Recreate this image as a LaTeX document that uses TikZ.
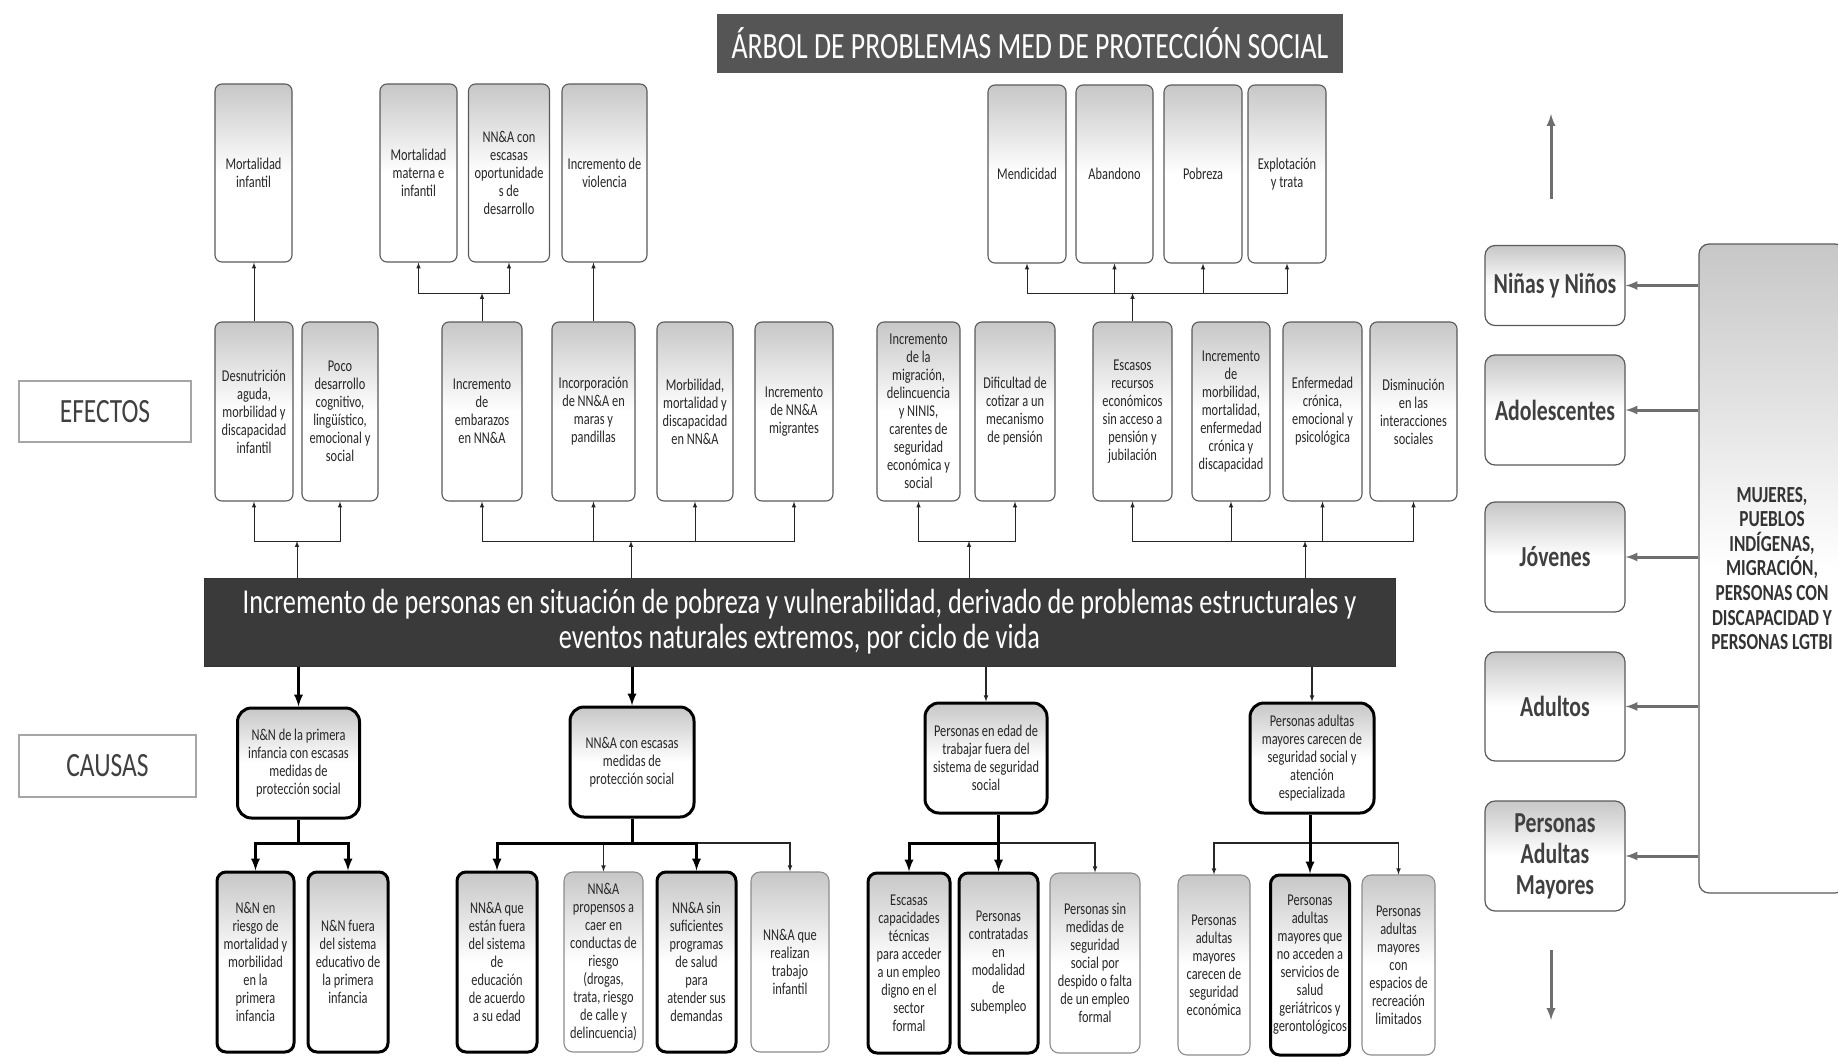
\documentclass[tikz,border=0pt]{standalone}
\usepackage{fontspec}
\setmainfont{Carlito}[FakeStretch=0.75]
\usepackage{tikz}
\usetikzlibrary{arrows}
\definecolor{boxline}{HTML}{5A5A5A}
\definecolor{inktxt}{HTML}{262626}
\definecolor{barfill}{HTML}{3A3A3A}
\definecolor{titlefill}{HTML}{555555}
\definecolor{lightline}{HTML}{8C8C8C}
\definecolor{sidegray}{HTML}{6E6E6E}
\newcommand{\boxfont}{\fontsize{16.5}{18}\selectfont}

\begin{document}
\begin{tikzpicture}[x=1pt,y=-1pt,>=latex,
  shadebox/.style={top color=black!22, bottom color=white, middle color=white},
  eff/.style={shadebox, rounded corners=7pt, draw=boxline, line width=1.1pt, align=center, inner sep=2pt, text=inktxt, font=\boxfont},
  toprow/.style={eff, minimum height=178pt},
  midrow/.style={eff, minimum height=179pt},
  kidthick/.style={eff, draw=black, line width=3pt, rounded corners=9pt, minimum height=180pt},
  kidthin/.style={eff, draw=lightline, rounded corners=9pt, minimum height=180pt},
  causebox/.style={eff, draw=black, line width=3pt, rounded corners=14pt, minimum height=110pt},
  agebox/.style={shadebox, rounded corners=10pt, draw=boxline, line width=1.2pt, align=center, text=black!75, font=\bfseries\fontsize{29}{31}\selectfont},
  labelbox/.style={draw=black!35, line width=1.2pt, fill=white, text=black!75, font=\fontsize{34}{36}\selectfont},
  efflink/.style={draw=inktxt, line width=1pt},
  thicklink/.style={draw=black, line width=3pt},
  thinlink/.style={draw=inktxt, line width=1.1pt},
  sidelink/.style={draw=sidegray, line width=3pt, ->}
]
\useasboundingbox (0,0) rectangle (1838,1057);
\clip (0,0) rectangle (1838,1057);
\fill[white] (0,0) rectangle (1838,1057);

\node[fill=titlefill, text=white, minimum width=626pt, minimum height=59pt, font=\fontsize{37}{40}\selectfont] (title) at (1030,43.5) {ÁRBOL DE PROBLEMAS MED DE PROTECCIÓN SOCIAL};

\node[labelbox, minimum width=172pt, minimum height=61pt] (efectos) at (105,411.5) {EFECTOS};
\node[labelbox, minimum width=177pt, minimum height=62pt] (causas) at (107.5,766) {CAUSAS};

% efectos
\node[toprow, minimum width=77pt] (t1) at (253.5,173) {Mortalidad\\ infantil};
\node[toprow, minimum width=77pt] (t2) at (418.5,173) {Mortalidad\\ materna e\\ infantil};
\node[toprow, minimum width=81pt] (t3) at (509,173) {NN\&A con\\ escasas\\ oportunidade\\ s de\\ desarrollo};
\node[toprow, minimum width=85pt] (t4) at (604.5,173) {Incremento de\\ violencia};
\node[toprow, minimum width=78pt] (t5) at (1027,174) {Mendicidad};
\node[toprow, minimum width=77pt] (t6) at (1114.5,174) {Abandono};
\node[toprow, minimum width=78pt] (t7) at (1203,174) {Pobreza};
\node[toprow, minimum width=78pt] (t8) at (1287,174) {Explotación\\ y trata};

\node[midrow, minimum width=78pt] (m1) at (254,411.5) {Desnutrición\\ aguda,\\ morbilidad y\\ discapacidad\\ infantil};
\node[midrow, minimum width=76pt] (m2) at (340,411.5) {Poco\\ desarrollo\\ cognitivo,\\ lingüístico,\\ emocional y\\ social};
\node[midrow, minimum width=80pt] (m3) at (482,411.5) {Incremento\\ de\\ embarazos\\ en NN\&A};
\node[midrow, minimum width=83pt] (m4) at (593.5,411.5) {Incorporación\\ de NN\&A en\\ maras y\\ pandillas};
\node[midrow, minimum width=76pt] (m5) at (695,411.5) {Morbilidad,\\ mortalidad y\\ discapacidad\\ en NN\&A};
\node[midrow, minimum width=78pt] (m6) at (794,411.5) {Incremento\\ de NN\&A\\ migrantes};
\node[midrow, minimum width=83pt] (m7) at (918.5,411.5) {Incremento\\ de la\\ migración,\\ delincuencia\\ y NINIS,\\ carentes de\\ seguridad\\ económica y\\ social};
\node[midrow, minimum width=80pt] (m8) at (1015,411.5) {Dificultad de\\ cotizar a un\\ mecanismo\\ de pensión};
\node[midrow, minimum width=79pt] (m9) at (1132.5,411.5) {Escasos\\ recursos\\ económicos\\ sin acceso a\\ pensión y\\ jubilación};
\node[midrow, minimum width=78pt] (m10) at (1231,411.5) {Incremento\\ de\\ morbilidad,\\ mortalidad,\\ enfermedad\\ crónica y\\ discapacidad};
\node[midrow, minimum width=79pt] (m11) at (1322.5,411.5) {Enfermedad\\ crónica,\\ emocional y\\ psicológica};
\node[midrow, minimum width=87pt] (m12) at (1413.5,411.5) {Disminución\\ en las\\ interacciones\\ sociales};

\node[fill=barfill, draw=black!80, line width=1pt, text=white, align=center, minimum width=1191pt, minimum height=88pt, font=\fontsize{35}{35}\selectfont] (core) at (799.5,622) {Incremento de personas en situación de pobreza y vulnerabilidad, derivado de problemas estructurales y\\ eventos naturales extremos, por ciclo de vida};

% causas
\node[causebox, minimum width=122pt] (k1) at (298.5,763) {N\&N de la primera\\ infancia con escasas\\ medidas de\\ protección social};
\node[causebox, minimum width=124pt] (k2) at (632,762) {NN\&A con escasas\\ medidas de\\ protección social};
\node[causebox, minimum width=122pt] (k3) at (986,758) {Personas en edad de\\ trabajar fuera del\\ sistema de seguridad\\ social};
\node[causebox, minimum width=124pt] (k4) at (1312,758) {Personas adultas\\ mayores carecen de\\ seguridad social y\\ atención\\ especializada};

\node[kidthick, minimum width=77pt] (c1a) at (255.5,962) {N\&N en\\ riesgo de\\ mortalidad y\\ morbilidad\\ en la\\ primera\\ infancia};
\node[kidthick, minimum width=80pt] (c1b) at (348,962) {N\&N fuera\\ del sistema\\ educativo de\\ la primera\\ infancia};
\node[kidthick, minimum width=80pt] (c2a) at (497,962) {NN\&A que\\ están fuera\\ del sistema\\ de\\ educación\\ de acuerdo\\ a su edad};
\node[kidthin, minimum width=79pt] (c2b) at (603.5,962) {NN\&A\\ propensos a\\ caer en\\ conductas de\\ riesgo\\ (drogas,\\ trata, riesgo\\ de calle y\\ delincuencia)};
\node[kidthick, minimum width=79pt] (c2c) at (696.5,962) {NN\&A sin\\ suficientes\\ programas\\ de salud\\ para\\ atender sus\\ demandas};
\node[kidthin, minimum width=78pt] (c2d) at (790,962) {NN\&A que\\ realizan\\ trabajo\\ infantil};
\node[kidthick, minimum width=82pt] (c3a) at (909,963) {Escasas\\ capacidades\\ técnicas\\ para acceder\\ a un empleo\\ digno en el\\ sector\\ formal};
\node[kidthick, minimum width=79pt] (c3b) at (998.5,963) {Personas\\ contratadas\\ en\\ modalidad\\ de\\ subempleo};
\node[kidthin, minimum width=90pt] (c3c) at (1095,963) {Personas sin\\ medidas de\\ seguridad\\ social por\\ despido o falta\\ de un empleo\\ formal};
\node[kidthin, minimum width=72pt] (c4a) at (1214,965) {Personas\\ adultas\\ mayores\\ carecen de\\ seguridad\\ económica};
\node[kidthick, minimum width=79pt] (c4b) at (1310,965) {Personas\\ adultas\\ mayores que\\ no acceden a\\ servicios de\\ salud\\ geriátricos y\\ gerontológicos};
\node[kidthin, minimum width=73pt] (c4c) at (1398.5,965) {Personas\\ adultas\\ mayores\\ con\\ espacios de\\ recreación\\ limitados};

% ciclo de vida
\node[agebox, minimum width=140pt, minimum height=80pt] (a1) at (1555,285.5) {Niñas y Niños};
\node[agebox, minimum width=140pt, minimum height=110pt] (a2) at (1555,410) {Adolescentes};
\node[agebox, minimum width=140pt, minimum height=110pt] (a3) at (1555,557) {Jóvenes};
\node[agebox, minimum width=140pt, minimum height=109pt] (a4) at (1555,706.5) {Adultos};
\node[agebox, minimum width=140pt, minimum height=110pt] (a5) at (1555,856) {Personas\\ Adultas\\ Mayores};
\node[agebox, minimum width=146pt, minimum height=649pt, text=black!80, font=\bfseries\fontsize{23}{24.6}\selectfont] (w) at (1772,568.5) {MUJERES,\\ PUEBLOS\\ INDÍGENAS,\\ MIGRACIÓN,\\ PERSONAS CON\\ DISCAPACIDAD Y\\ PERSONAS LGTBI};

\coordinate (g1) at (297,541);
\coordinate (g2) at (631,541);
\coordinate (g3) at (969,541);
\coordinate (g4) at (1305,541);
\coordinate (e2) at (482,293);
\coordinate (e4) at (1132.5,293);
\coordinate (j1) at (298.5,843);
\coordinate (j2) at (632,843);
\coordinate (j3) at (998.5,843);
\coordinate (j4) at (1310,843);

\draw[efflink,->] (core.north -| g1) -- (g1);
\draw[efflink,->] (g1) -| (m1.south);
\draw[efflink,->] (g1) -| (m2.south);
\draw[efflink,->] (core.north -| g2) -- (g2);
\foreach \m in {m3,m4,m5,m6} \draw[efflink,->] (g2) -| (\m.south);
\draw[efflink,->] (core.north -| g3) -- (g3);
\draw[efflink,->] (g3) -| (m7.south);
\draw[efflink,->] (g3) -| (m8.south);
\draw[efflink,->] (core.north -| g4) -- (g4);
\foreach \m in {m9,m10,m11,m12} \draw[efflink,->] (g4) -| (\m.south);

\draw[efflink,->] (m1.north) -- (m1.north |- t1.south);
\draw[efflink,->] (m3.north) -- (e2);
\draw[efflink,->] (e2) -| (t2.south);
\draw[efflink,->] (e2) -| (t3.south);
\draw[efflink,->] (m4.north) -- (m4.north |- t4.south);
\draw[efflink,->] (m9.north) -- (e4);
\foreach \t in {t5,t6,t7,t8} \draw[efflink,->] (e4) -| (\t.south);

\draw[thicklink,->] (core.south -| k1) -- (k1.north);
\draw[thicklink,->] (core.south -| k2) -- (k2.north);
\draw[thinlink,->] (core.south -| k3) -- (k3.north);
\draw[thinlink,->] (core.south -| k4) -- (k4.north);

\draw[thicklink] (k1.south) -- (j1);
\draw[thicklink,->] (j1) -| (c1a.north);
\draw[thicklink,->] (j1) -| (c1b.north);
\draw[thinlink,->] (j2) -| (c2b.north);
\draw[thinlink,->] (j2) -| (c2d.north);
\draw[thicklink] (k2.south) -- (j2);
\draw[thicklink,->] (j2) -| (c2a.north);
\draw[thicklink,->] (j2) -| (c2c.north);
\draw[thinlink,->] (j3) -| (c3c.north);
\draw[thicklink] (k3.south -| j3) -- (j3);
\draw[thicklink,->] (j3) -| (c3a.north);
\draw[thicklink,->] (j3) -- (c3b.north);
\draw[thinlink,->] (j4) -| (c4a.north);
\draw[thinlink,->] (j4) -| (c4c.north);
\draw[thicklink,->] (k4.south -| j4) -- (c4b.north);

\foreach \a in {a1,a2,a3,a4,a5} \draw[sidelink] (w.west |- \a.east) -- (\a.east);
\coordinate (upA) at (1551,199);
\coordinate (upB) at (1551,114);
\coordinate (dnA) at (1551,950);
\coordinate (dnB) at (1551,1020);
\draw[sidelink] (upA) -- (upB);
\draw[sidelink] (dnA) -- (dnB);
\end{tikzpicture}
\end{document}
